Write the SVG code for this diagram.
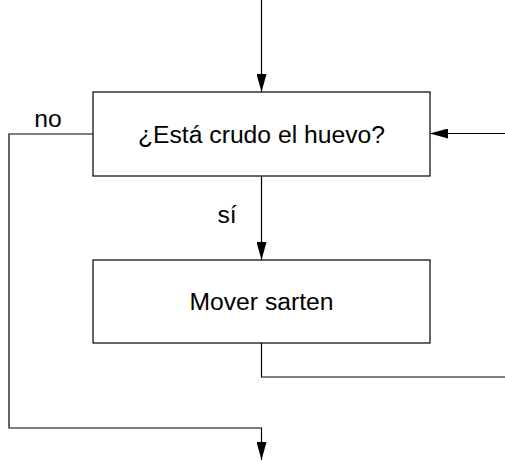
<svg xmlns="http://www.w3.org/2000/svg" width="505" height="462" viewBox="0 0 505 462">
<style>
.box{fill:#fff;stroke:#000;stroke-width:1.2}
.ln{fill:none;stroke:#000;stroke-width:1.2}
.t{font-family:"Liberation Sans",Arial,sans-serif;font-size:24.7px;fill:#000}
</style>
<defs>
<marker id="ah" viewBox="0 0 18 10" refX="18" refY="5" markerWidth="18" markerHeight="10" markerUnits="userSpaceOnUse" orient="auto">
<path d="M0,0 L18,5 L0,10 Z" fill="#000"/>
</marker>
</defs>
<g id="connectors">
<line class="ln" x1="261.5" y1="0" x2="261.5" y2="92" marker-end="url(#ah)"/>
<line class="ln" x1="505" y1="133.5" x2="430" y2="133.5" marker-end="url(#ah)"/>
<line class="ln" x1="261.5" y1="176" x2="261.5" y2="260" marker-end="url(#ah)"/>
<polyline class="ln" points="93,134 9,134 9,428 261.5,428 261.5,460" marker-end="url(#ah)"/>
<polyline class="ln" points="261.5,343 261.5,377 505,377"/>
<text class="t" x="48" y="127" text-anchor="middle">no</text>
<text class="t" x="227" y="223" text-anchor="middle">sí</text>
</g>
<g id="n1">
<rect class="box" x="93" y="92" width="337" height="84"/>
<text class="t" x="261.5" y="142.5" text-anchor="middle">¿Está crudo el huevo?</text>
</g>
<g id="n2">
<rect class="box" x="93" y="260" width="337" height="83"/>
<text class="t" x="261.5" y="310" text-anchor="middle">Mover sarten</text>
</g>
</svg>
